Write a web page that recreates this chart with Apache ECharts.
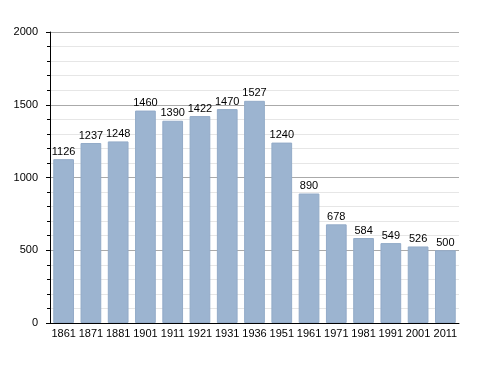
<!DOCTYPE html>
<html><head><meta charset="utf-8">
<script src="https://cdn.jsdelivr.net/npm/echarts@6/dist/echarts.min.js"></script>
<style>html,body{margin:0;padding:0;background:#fff}#c{width:488px;height:373px}</style>
</head><body><div id="c"></div>
<script>
const years = ['1861','1871','1881','1901','1911','1921','1931','1936','1951','1961','1971','1981','1991','2001','2011'];
const population = [1126,1237,1248,1460,1390,1422,1470,1527,1240,890,678,584,549,526,500];
const yTicks = [0,500,1000,1500,2000];

const chart = echarts.init(document.getElementById('c'), null, {renderer:'canvas'});
chart.setOption({
  animation:false,
  grid:{left:50,right:29,top:32,bottom:50},
  xAxis:{type:'category',data:years,
    axisLine:{show:true,lineStyle:{color:'#000',width:1}},
    axisTick:{show:false},
    axisLabel:{color:'#000',fontFamily:'Liberation Sans, Arial',fontSize:11,margin:5,interval:0}},
  yAxis:{type:'value',min:yTicks[0],max:yTicks[yTicks.length-1],interval:500,
    axisLine:{show:true,lineStyle:{color:'#000',width:1}},
    axisTick:{show:true,length:4,lineStyle:{color:'#000'}},
    minorTick:{show:true,splitNumber:5,length:3,lineStyle:{color:'#000'}},
    splitLine:{show:true,lineStyle:{color:'#aaaaaa',width:1}},
    minorSplitLine:{show:true,lineStyle:{color:'#e6e6e6',width:1}},
    axisLabel:{color:'#000',fontFamily:'Liberation Sans, Arial',fontSize:11,margin:12,formatter:v=>String(v)}},
  series:[{type:'bar',data:population,barCategoryGap:'24%',
    itemStyle:{color:'#9cb4d0',borderColor:'#93abc8',borderWidth:1},
    label:{show:true,position:'top',distance:2,color:'#000',fontFamily:'Liberation Sans, Arial',fontSize:11}}]
});
</script></body></html>
